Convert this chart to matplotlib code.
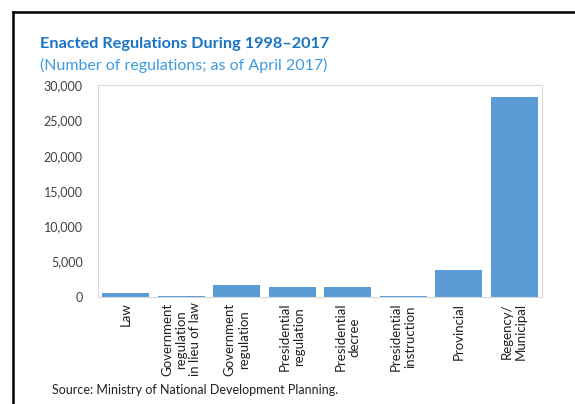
import matplotlib
matplotlib.use("Agg")
import matplotlib.pyplot as plt
from matplotlib.lines import Line2D
import numpy as np

plt.rcParams['font.family'] = ['Lato', 'DejaVu Sans']

categories = ["Law", "Government\nregulation\nin lieu of law", "Government\nregulation",
              "Presidential\nregulation", "Presidential\ndecree", "Presidential\ninstruction",
              "Provincial", "Regency/\nMunicipal"]
counts = [600, 150, 1700, 1370, 1370, 180, 3780, 28250]
yticks = [0, 5000, 10000, 15000, 20000, 25000, 30000]

fig = plt.figure(figsize=(5.75, 4.04), dpi=100)
ax = fig.add_axes([0.1704, 0.2649, 0.7722, 0.5247])

x = np.arange(len(categories))
ax.bar(x, counts, width=0.85, color="#5B9BD5")
ax.set_xlim(-0.5, len(categories) - 0.5)
ax.set_ylim(0, 30000)
ax.set_yticks(yticks)
ax.set_yticklabels([f"{v:,}" for v in yticks], fontsize=9, color="#404040")
ax.set_xticks(x)
ax.set_xticklabels(categories, rotation=90, fontsize=9.5, color="#202020",
                   multialignment="center", va="top", ha="center", linespacing=1.2)
ax.tick_params(axis="both", length=0)
ax.tick_params(axis="y", pad=11)
ax.tick_params(axis="x", pad=4)
for s in ax.spines.values():
    s.set_color("#d9d9d9")
    s.set_linewidth(0.8)

fig.text(0.0696, 0.891, "Enacted Regulations During 1998\u20132017", fontsize=11.7,
         fontweight="bold", color="#1a73c4", va="center", ha="left")
fig.text(0.0696, 0.839, "(Number of regulations; as of April 2017)", fontsize=11.5,
         color="#3d9be0", va="center", ha="left")
fig.text(0.0904, 0.035, "Source: Ministry of National Development Planning.", fontsize=9,
         color="#202020", va="center", ha="left")

# frame lines on top and left
fig.add_artist(Line2D([0.0226, 1.0], [0.970, 0.970], color="black", linewidth=1.8,
                      transform=fig.transFigure))
fig.add_artist(Line2D([0.0226, 0.0226], [0.0, 0.970], color="black", linewidth=1.8,
                      transform=fig.transFigure))

fig.savefig("out.png", dpi=100)
